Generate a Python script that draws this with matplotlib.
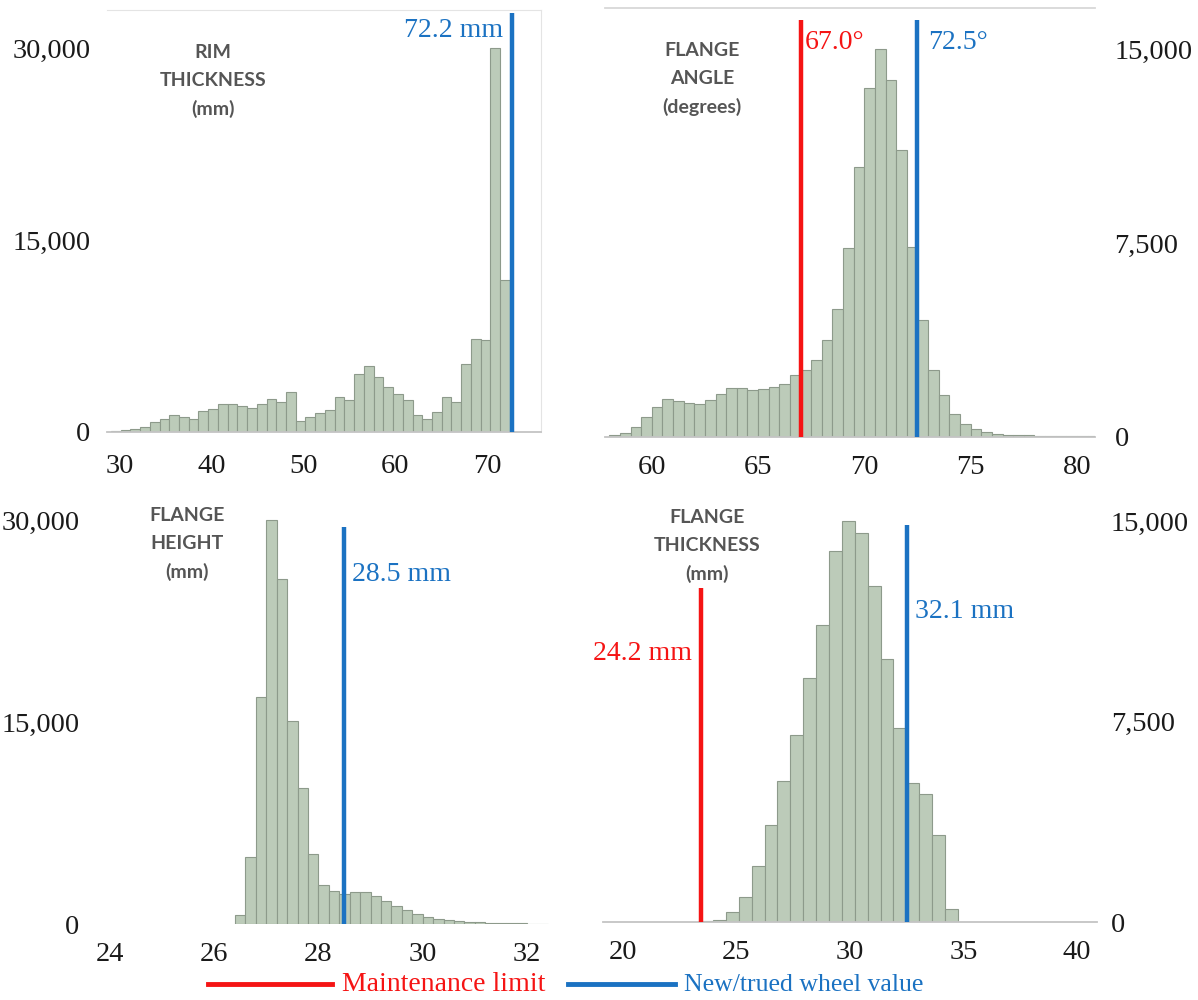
import matplotlib.pyplot as plt
import numpy as np
from matplotlib.lines import Line2D
from matplotlib.ticker import FuncFormatter

# Rim thickness histogram (mm)
rim_edges = np.linspace(29.0, 72.5, 42)
rim_counts = [60, 120, 220,
              400, 800, 1050, 1300, 1200, 1050, 1650, 1800, 2150, 2150, 2000, 1900,
              2200, 2600, 2350, 3100, 850, 1200, 1450, 1700, 2750, 2500, 4500, 5150,
              4300, 3500, 3000, 2500, 1300, 1050, 1550, 2750, 2350, 5350, 7300, 7200,
              30000, 11900]
rim_new = 72.7

# Flange angle histogram (degrees)
angle_edges = np.arange(58.0, 81.01, 0.5)
angle_counts = [60, 150,
                390, 775, 1160, 1450, 1400, 1330, 1260, 1420, 1680, 1910, 1910, 1830,
                1870, 1935, 2060, 2390,
                2580, 2990, 3740, 4930, 7290, 10450, 13480, 15000, 13800, 11100, 7350,
                4520, 2580, 1610, 900, 520, 320, 190, 130,
                90, 70, 60, 50, 45, 40, 40, 35, 30]
angle_limit = 67.0
angle_new = 72.5

# Flange height histogram (mm)
height_edges = np.arange(26.4, 32.41, 0.2)
height_counts = [670, 4950, 16900, 30000, 25600, 15100, 10100, 5200, 2900, 2450, 2230,
                 2400, 2350, 2050, 1730, 1360, 1060, 740, 500, 370, 300, 240, 180, 130,
                 100, 70, 50, 40, 30, 25]
height_new = 28.5

# Flange thickness histogram (mm)
fthick_edges = np.linspace(23.4, 34.75, 21)
fthick_counts = [40, 90, 370, 935, 2080, 3640, 5260, 7010, 9130, 11120, 13870, 15000,
                 14560, 12570, 9830, 7260, 5200, 4780, 3270, 500]
fthick_limit = 23.45
fthick_new = 32.5

legend_labels = ["Maintenance limit", "New/trued wheel value"]

RED = "#f51414"
BLUE = "#1b72c2"
BAR_FACE = "#bccbb9"
BAR_EDGE = "#8d9a8b"
SERIF = "Liberation Serif"
SANS = "Lato"

plt.rcParams["font.family"] = SERIF

fig = plt.figure(figsize=(11.98, 10), dpi=100)


def px_rect(x0, x1, ytop, ybot):
    return [x0 / 1198, 1 - ybot / 1000, (x1 - x0) / 1198, (ybot - ytop) / 1000]


ax1 = fig.add_axes(px_rect(107, 541, 10, 432))
ax2 = fig.add_axes(px_rect(605, 1095, 8, 437))
ax3 = fig.add_axes(px_rect(89, 553, 500, 924))
ax4 = fig.add_axes(px_rect(603, 1097, 500, 922))


def draw_hist(ax, edges, counts):
    ax.bar(edges[:-1], counts, width=np.diff(edges), align="edge",
           color=BAR_FACE, edgecolor=BAR_EDGE, linewidth=0.8, zorder=2)


draw_hist(ax1, rim_edges, rim_counts)
draw_hist(ax2, angle_edges, angle_counts)
draw_hist(ax3, height_edges, height_counts)
draw_hist(ax4, fthick_edges, fthick_counts)

ax1.set_xlim(28.58, 75.9)
ax1.set_ylim(0, 32970)
ax2.set_xlim(57.8, 80.85)
ax2.set_ylim(0, 16585)
ax3.set_xlim(23.6, 32.5)
ax3.set_ylim(0, 31500)
ax4.set_xlim(19.12, 40.88)
ax4.set_ylim(0, 15785)

ax1.set_xticks([30, 40, 50, 60, 70])
ax2.set_xticks([60, 65, 70, 75, 80])
ax3.set_xticks([24, 26, 28, 30, 32])
ax4.set_xticks([20, 25, 30, 35, 40])
ax1.set_yticks([0, 15000, 30000])
ax3.set_yticks([0, 15000, 30000])
ax2.set_yticks([0, 7500, 15000])
ax4.set_yticks([0, 7500, 15000])

fmt = FuncFormatter(lambda v, p: f"{v:,.0f}")
for ax in (ax1, ax2, ax3, ax4):
    ax.yaxis.set_major_formatter(fmt)
    ax.tick_params(length=0, labelsize=20.5, colors="#1a1a1a")
    for s in ax.spines.values():
        s.set_visible(False)

ax2.yaxis.tick_right()
ax4.yaxis.tick_right()
ax1.tick_params(axis="x", pad=16)
ax2.tick_params(axis="x", pad=13)
ax3.tick_params(axis="x", pad=13)
ax4.tick_params(axis="x", pad=13)
ax1.tick_params(axis="y", pad=12)
ax3.tick_params(axis="y", pad=7)
ax2.tick_params(axis="y", pad=14)
ax4.tick_params(axis="y", pad=10)

# faint frames left over from the source panels
for ax in (ax1, ax2, ax4):
    ax.spines["bottom"].set_visible(True)
    ax.spines["bottom"].set_color("#c4c4c4")
    ax.spines["bottom"].set_linewidth(1.3)
for side in ("top", "right"):
    ax1.spines[side].set_visible(True)
    ax1.spines[side].set_color("#e4e4e4")
ax2.spines["top"].set_visible(True)
ax2.spines["top"].set_color("#d8d8d8")
ax2.spines["top"].set_linewidth(1.3)

# reference lines
LW = 3.2
ax1.vlines(rim_new, 0, 32730, color=BLUE, lw=LW, zorder=3)
ax2.vlines(angle_limit, 0, 16120, color=RED, lw=LW, zorder=3)
ax2.vlines(angle_new, 0, 16120, color=BLUE, lw=LW, zorder=3)
ax3.vlines(height_new, 0, 29480, color=BLUE, lw=LW, zorder=3)
ax4.vlines(fthick_limit, 0, 12490, color=RED, lw=LW, zorder=3)
ax4.vlines(fthick_new, 0, 14850, color=BLUE, lw=LW, zorder=3)

LBL = 20
ax1.text(71.8, 31400, "72.2 mm", color=BLUE, fontsize=LBL, ha="right", va="center")
ax2.text(67.2, 15270, "67.0°", color=RED, fontsize=LBL, ha="left", va="center")
ax2.text(73.0, 15270, "72.5°", color=BLUE, fontsize=LBL, ha="left", va="center")
ax3.text(28.65, 26000, "28.5 mm", color=BLUE, fontsize=LBL, ha="left", va="center")
ax4.text(23.05, 10060, "24.2 mm", color=RED, fontsize=LBL, ha="right", va="center")
ax4.text(32.85, 11600, "32.1 mm", color=BLUE, fontsize=LBL, ha="left", va="center")

# panel titles
titles = [
    (213, 81, "RIM\nTHICKNESS\n(mm)"),
    (702, 79, "FLANGE\nANGLE\n(degrees)"),
    (187, 544, "FLANGE\nHEIGHT\n(mm)"),
    (707, 546, "FLANGE\nTHICKNESS\n(mm)"),
]
for x, y, t in titles:
    fig.text(x / 1198, 1 - y / 1000, t, family=SANS, fontsize=14, fontweight="bold",
             color="#555555", ha="center", va="center", linespacing=1.75)

# legend drawn by hand so each entry can sit where it does in the source
ly = 1 - 984 / 1000
base = 1 - 991 / 1000
fig.add_artist(Line2D([208 / 1198, 332 / 1198], [ly, ly], color=RED, lw=3.5))
fig.add_artist(Line2D([568 / 1198, 675 / 1198], [ly, ly], color=BLUE, lw=3.5))
fig.text(342 / 1198, base, legend_labels[0], color=RED, fontsize=20,
         ha="left", va="baseline")
fig.text(684 / 1198, base, legend_labels[1], color=BLUE, fontsize=18.5,
         ha="left", va="baseline")

fig.savefig("out.png", dpi=100)
